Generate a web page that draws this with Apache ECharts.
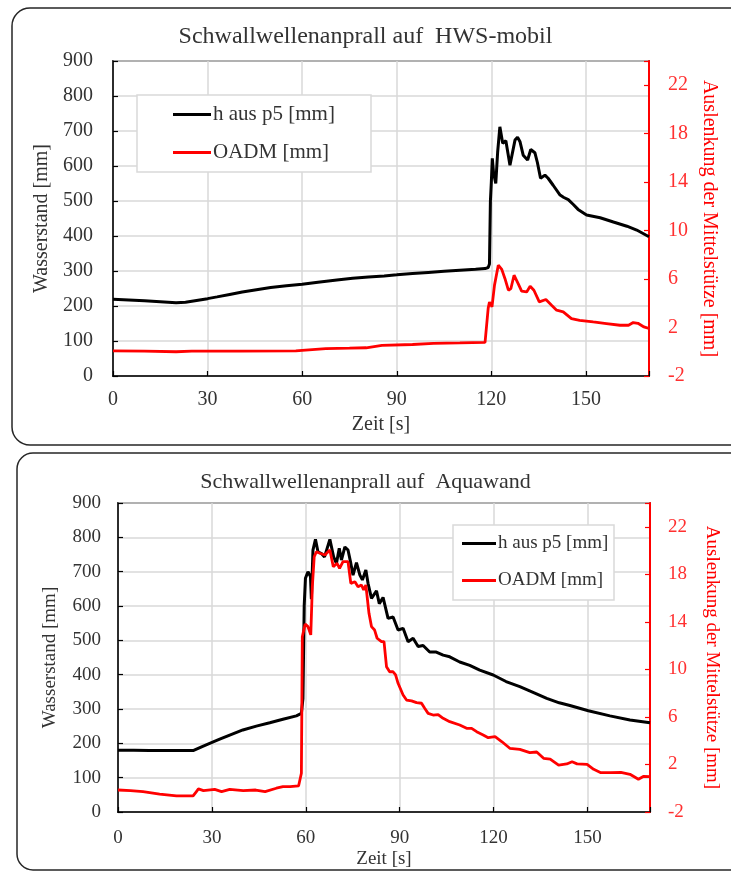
<!DOCTYPE html>
<html>
<head>
<meta charset="utf-8">
<script src="https://cdn.jsdelivr.net/npm/echarts@6/dist/echarts.min.js"></script>
<style>
html,body{margin:0;padding:0;background:#fff;}
#c{width:731px;height:872px;}
</style>
</head>
<body>
<div id="c"></div>
<script>
// ---------- DATA ----------
const titleTop = 'Schwallwellenanprall auf  HWS-mobil';
const titleBottom = 'Schwallwellenanprall auf  Aquawand';
const nameH = 'h aus p5 [mm]';
const nameO = 'OADM [mm]';
const xName = 'Zeit [s]';
const yNameLeft = 'Wasserstand [mm]';
const yNameRight = 'Auslenkung der Mittelstütze [mm]';

// Top chart (HWS-mobil): water level h [mm]
const tTopH = [0,5,10,15,20,23,26.5,30,33,37,41,45,50,55,60,65,71,76,81,86,90,95,100,105,110,115,118,119,119.4,119.7,120,120.3,120.7,121.4,122,122.7,123.6,124.6,125.9,127.5,128.3,129.1,130.1,131.5,132.5,133.8,134.6,135.6,137,138,139.6,141.8,143,144.4,146,147.5,150.2,154.5,158.7,163,166.1,170];
const hTop = [219,217,215,212,209,211,216,221,226,233,240,246,253,258,262,268,274,279,283,286,289,293,296,299,302,305,307,310,320,500,555,622,580,550,640,712,665,672,602,674,682,669,631,617,647,638,610,565,574,565,545,517,510,504,490,476,460,452,440,428,417,398];
// Top chart: OADM [mm]
const tTopO = [0,10,20,25,40,58,60,67.5,75,80.3,85.3,95,101.6,110,118,118.6,119,119.4,120.2,121,122.2,123.3,124.3,125.4,126.2,127.2,128.5,129.6,131.2,132.3,133.5,135.2,137.3,139.1,140.7,142.8,145.4,148,152.3,156.5,160.8,163.5,165,166.5,168.4,170];
const oTop = [0.07,0.06,0.0,0.05,0.06,0.07,0.12,0.26,0.3,0.33,0.52,0.6,0.7,0.73,0.78,0.85,3.6,4.1,3.7,5.5,7.15,6.8,6.05,5.08,5.22,6.32,5.63,5.0,4.94,5.41,5.08,4.12,4.31,3.84,3.43,3.29,2.74,2.6,2.46,2.33,2.19,2.19,2.41,2.35,2.05,1.92];

// Bottom chart (Aquawand): water level h [mm]
const tBotH = [0,5,10,15,20,24,26.7,29.3,32.5,35.7,39.9,44.2,48.5,52.7,57,58.6,59.1,59.5,59.9,60.7,61.5,61.8,62.3,63.1,63.9,65,66,67.7,68.9,69.8,70.7,71.4,72.5,73.5,74.4,75.1,76.2,77.3,78.1,79.2,79.9,81,82.6,83.5,84.7,86.3,87.9,89.5,91.1,92.7,94.3,95.9,97.5,99.6,101.7,103.9,106,109.2,112.4,115.6,119.9,124,128.4,133,137,141,144.4,150.3,157.2,163.6,170];
const hBot = [180,180,179,179,179,179,190,200,212,224,239,250,260,270,280,287,330,600,681,700,686,620,763,794,758,753,743,794,743,724,768,734,772,763,724,690,726,690,676,705,666,622,644,607,625,564,568,530,535,496,506,482,485,466,466,457,452,437,427,413,399,380,365,347,331,318,310,295,280,268,260];
// Bottom chart: OADM [mm]
const tBotO = [0,4,8,13.3,18.7,24,25,25.7,27.3,30.9,33.1,35.7,40,44,47,50.6,52.7,55,57.7,58.3,58.6,58.9,59.8,60.7,61.6,62.1,62.7,63.4,64.5,66.1,67.7,68.8,70,70.8,71.9,73.5,74.4,75.7,76.7,77.8,78.5,79.2,80.2,81,82,82.8,84.2,85,85.8,86.8,87.9,88.7,89.5,91.1,92.2,93.8,95.4,97,98,99.1,100.7,102.3,103.9,106,109.2,111.4,113,114.6,116.7,118.3,120.5,122.7,125.2,128.4,131.6,133.8,136,138.1,140.8,143.4,145.1,146.7,149.9,152,154.3,157.5,160.7,163.6,166.3,168,170];
const oBot = [-0.15,-0.2,-0.29,-0.49,-0.65,-0.65,-0.3,-0.06,-0.2,-0.1,-0.29,-0.1,-0.2,-0.15,-0.29,0.0,0.13,0.13,0.19,0.3,1.26,12.75,13.82,13.6,12.9,16.96,19.48,19.9,19.77,19.62,20.04,18.64,18.93,18.5,19.06,19.06,17.24,17.38,16.96,17.1,16.68,17.1,14.72,13.6,13.31,12.62,12.33,12.33,10.23,9.8,9.8,9.53,8.83,7.84,7.42,7.35,7.2,7.15,6.73,6.3,6.16,6.2,5.88,5.6,5.32,5.04,5.04,4.76,4.48,4.25,4.34,3.91,3.36,3.27,2.99,3.05,2.52,2.45,1.95,2.04,2.23,2.05,2.01,1.59,1.31,1.31,1.33,1.17,0.75,1.0,0.97];

// Axis ticks
const xMin = 0, xMax = 170, xStep = 30;
const yLeftMin = 0, yLeftMax = 900, yLeftStep = 100;
const yRightMin = -2, yRightMax = 24, yRightStep = 4;

// ---------- CHART ----------
const zip = (t, v) => t.map((x, i) => [x, v[i]]);
const FONT = 'Liberation Serif';
const GREY = '#333333';
const RED = '#ff0000';

function axesFor(gi, fs, marg) {
  const xa = {
    type: 'value', gridIndex: gi, min: xMin, max: xMax, interval: xStep,
    name: xName, nameLocation: 'middle', nameGap: marg.xName,
    nameTextStyle: {fontFamily: FONT, fontSize: fs, color: GREY},
    axisLine: {show: true, lineStyle: {color: '#000', width: 1.5}},
    axisTick: {show: true, inside: true, length: 5, lineStyle: {color: '#000', width: 1.2}},
    axisLabel: {fontFamily: FONT, fontSize: fs, color: GREY, margin: marg.xLab,
      formatter: v => (v % xStep === 0 ? String(v) : '')},
    splitLine: {show: true, lineStyle: {color: '#d9d9d9', width: 1.5}}
  };
  const yl = {
    type: 'value', gridIndex: gi, min: yLeftMin, max: yLeftMax, interval: yLeftStep,
    position: 'left',
    name: yNameLeft, nameLocation: 'middle', nameGap: marg.yName, nameRotate: 90,
    nameTextStyle: {fontFamily: FONT, fontSize: fs, color: GREY},
    axisLine: {show: true, lineStyle: {color: '#000', width: 1.5}},
    axisTick: {show: true, inside: true, length: 5, lineStyle: {color: '#000', width: 1.2}},
    axisLabel: {fontFamily: FONT, fontSize: fs, color: GREY, margin: marg.yLab},
    splitLine: {show: true, lineStyle: {color: '#d9d9d9', width: 1.5}}
  };
  const yr = {
    type: 'value', gridIndex: gi, min: yRightMin, max: yRightMax, interval: yRightStep,
    position: 'right',
    name: yNameRight, nameLocation: 'middle', nameGap: marg.rName, nameRotate: -90,
    nameTextStyle: {fontFamily: FONT, fontSize: fs, color: RED},
    axisLine: {show: true, lineStyle: {color: RED, width: 2}},
    axisTick: {show: true, inside: true, length: 5, lineStyle: {color: RED, width: 1.2}},
    axisLabel: {fontFamily: FONT, fontSize: fs, color: '#ff3030', margin: marg.rLab,
      formatter: v => (v >= yRightMax ? '' : String(v))},
    splitLine: {show: false}
  };
  return {xa, yl, yr};
}

const A = axesFor(0, 20, {xName: 39, xLab: 14, yName: 54, yLab: 20, rName: 50, rLab: 19});
const B = axesFor(1, 19, {xName: 38, xLab: 17, yName: 58, yLab: 17, rName: 52, rLab: 18});

const chart = echarts.init(document.getElementById('c'), null, {renderer: 'canvas'});
chart.setOption({
  backgroundColor: '#fff',
  animation: false,
  title: [
    {text: titleTop, left: 'center', top: 25, padding: 0,
      textStyle: {fontFamily: FONT, fontSize: 24, fontWeight: 'normal', color: GREY}},
    {text: titleBottom, left: 'center', top: 471, padding: 0,
      textStyle: {fontFamily: FONT, fontSize: 22, fontWeight: 'normal', color: GREY}}
  ],
  grid: [
    {left: 113, right: 82, top: 61, height: 315, show: true, borderColor: '#000', borderWidth: 1.5, backgroundColor: 'transparent', containLabel: false},
    {left: 118, right: 81, top: 503, height: 309, show: true, borderColor: '#000', borderWidth: 1.5, backgroundColor: 'transparent', containLabel: false}
  ],
  xAxis: [A.xa, B.xa],
  yAxis: [A.yl, A.yr, B.yl, B.yr],
  legend: [
    {data: [nameH, nameO], orient: 'vertical', left: 173, top: 104, padding: 0, itemGap: 17,
      icon: 'rect', itemWidth: 38, itemHeight: 3, selectedMode: false, z: 6,
      textStyle: {fontFamily: FONT, fontSize: 21, color: GREY, padding: [0, 0, 0, -3]}},
    {data: [nameH, nameO], orient: 'vertical', left: 462, top: 534, padding: 0, itemGap: 18,
      icon: 'rect', itemWidth: 34, itemHeight: 3, selectedMode: false, z: 6,
      textStyle: {fontFamily: FONT, fontSize: 19, color: GREY, padding: [0, 0, 0, -3]}}
  ],
  graphic: [
    {type: 'rect', shape: {x: 12, y: 8, width: 760, height: 437, r: 18}, silent: true, z: 0,
      style: {fill: 'none', stroke: '#262626', lineWidth: 1.5}},
    {type: 'rect', shape: {x: 17, y: 453, width: 760, height: 417, r: 16}, silent: true, z: 0,
      style: {fill: 'none', stroke: '#262626', lineWidth: 1.5}},
    {type: 'rect', shape: {x: 137, y: 95, width: 234, height: 77}, silent: true, z: 5,
      style: {fill: '#fff', stroke: '#d9d9d9', lineWidth: 1.5}},
    {type: 'rect', shape: {x: 453, y: 525, width: 161, height: 75}, silent: true, z: 5,
      style: {fill: '#fff', stroke: '#d9d9d9', lineWidth: 1.5}}
  ],
  series: [
    {name: nameH, type: 'line', xAxisIndex: 0, yAxisIndex: 0, data: zip(tTopH, hTop),
      symbol: 'none', color: '#000', lineStyle: {color: '#000', width: 3}, z: 2},
    {name: nameO, type: 'line', xAxisIndex: 0, yAxisIndex: 1, data: zip(tTopO, oTop),
      symbol: 'none', color: RED, lineStyle: {color: RED, width: 2.8}, z: 3},
    {name: nameH, type: 'line', xAxisIndex: 1, yAxisIndex: 2, data: zip(tBotH, hBot),
      symbol: 'none', color: '#000', lineStyle: {color: '#000', width: 3}, z: 2},
    {name: nameO, type: 'line', xAxisIndex: 1, yAxisIndex: 3, data: zip(tBotO, oBot),
      symbol: 'none', color: RED, lineStyle: {color: RED, width: 2.8}, z: 3}
  ]
});
</script>
</body>
</html>
